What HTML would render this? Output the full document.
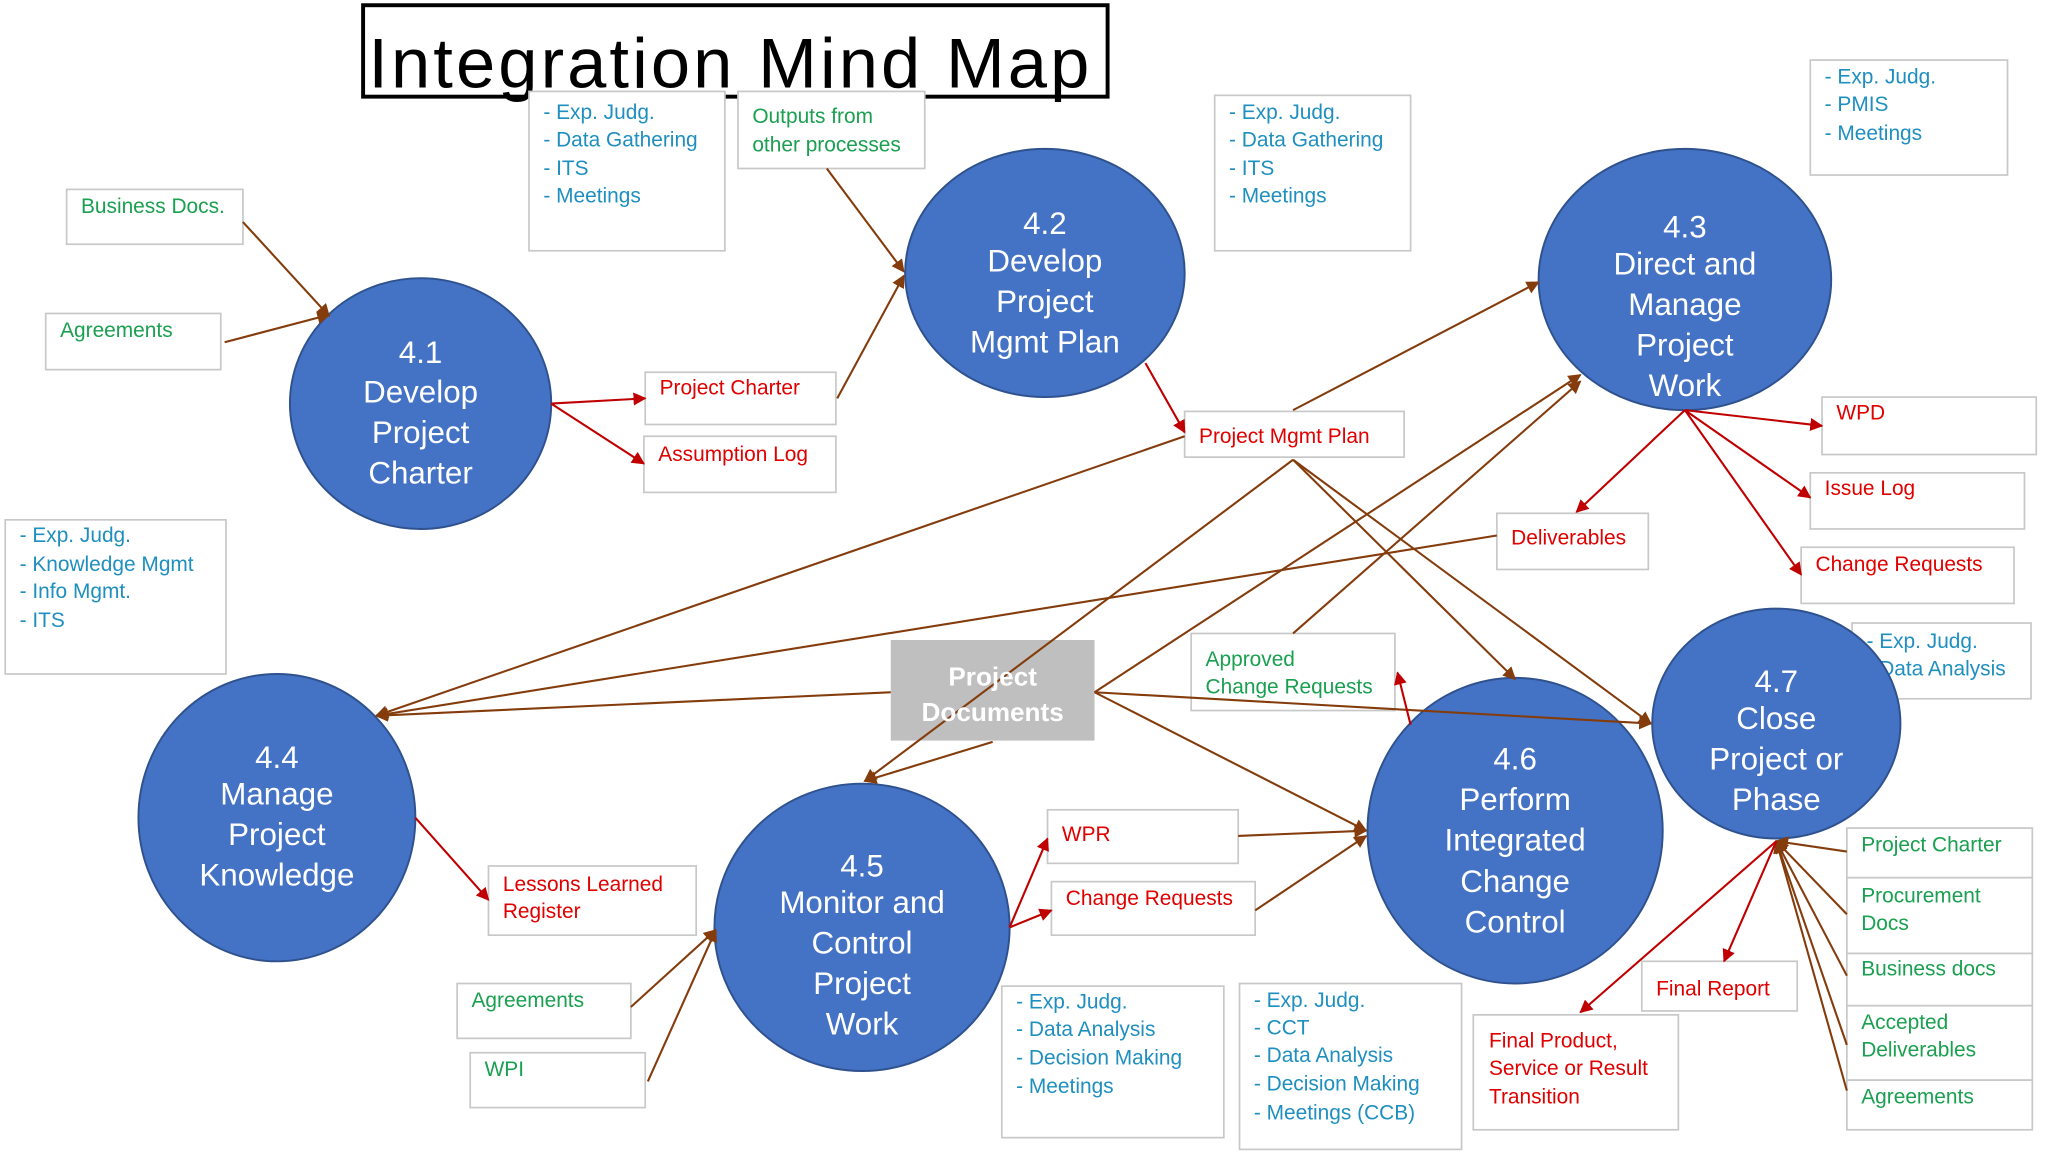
<!DOCTYPE html>
<html><head><meta charset="utf-8"><style>
html,body{margin:0;padding:0;background:#fff;}
svg{display:block;}
text{font-family:"Liberation Sans Narrow","Liberation Sans",sans-serif;}
.b{fill:#1f8fc0;font-size:16px}
.g{fill:#1aa050;font-size:16px}
.r{fill:#e00000;font-size:16px}
.w{fill:#fff;font-size:24px;text-anchor:middle}
.bx{fill:#fff;stroke:#c8c8c8;stroke-width:1.3}
.ci{fill:#4472c4;stroke:#2f528f;stroke-width:1.5}
.br{stroke:#843c0c;stroke-width:1.6;fill:none}
.rd{stroke:#c00000;stroke-width:1.6;fill:none}
</style></head><body>
<svg width="2048" height="1152" viewBox="0 0 1568 882" xmlns="http://www.w3.org/2000/svg">
<defs>
<marker id="ab" markerWidth="10" markerHeight="10" refX="9" refY="5" orient="auto" markerUnits="userSpaceOnUse"><path d="M0,0 L10,5 L0,10 Z" fill="#843c0c"/></marker>
<marker id="ar" markerWidth="10" markerHeight="10" refX="9" refY="5" orient="auto" markerUnits="userSpaceOnUse"><path d="M0,0 L10,5 L0,10 Z" fill="#c00000"/></marker>
</defs>
<rect x="278" y="4" width="570" height="70" fill="#fff" stroke="#000" stroke-width="3"/>
<text x="282" y="67" style="font-family:'Liberation Sans',sans-serif;font-size:54px" fill="#000" textLength="552">Integration Mind Map</text>

<!-- boxes -->
<rect class="bx" x="405" y="70" width="150" height="122"/>
<text class="b" x="416" y="91">- Exp. Judg.</text><text class="b" x="416" y="112">- Data Gathering</text><text class="b" x="416" y="134">- ITS</text><text class="b" x="416" y="155">- Meetings</text>
<rect class="bx" x="565" y="70" width="143" height="59"/>
<text class="g" x="576" y="94">Outputs from</text><text class="g" x="576" y="116">other processes</text>
<rect class="bx" x="51" y="145" width="135" height="42"/><text class="g" x="62" y="163">Business Docs.</text>
<rect class="bx" x="35" y="240" width="134" height="43"/><text class="g" x="46" y="258">Agreements</text>
<rect class="bx" x="494" y="285" width="146" height="40"/><text class="r" x="505" y="302">Project Charter</text>
<rect class="bx" x="493" y="334" width="147" height="43"/><text class="r" x="504" y="353">Assumption Log</text>
<rect class="bx" x="930" y="73" width="150" height="119"/>
<text class="b" x="941" y="91">- Exp. Judg.</text><text class="b" x="941" y="112">- Data Gathering</text><text class="b" x="941" y="134">- ITS</text><text class="b" x="941" y="155">- Meetings</text>
<rect class="bx" x="1386" y="46" width="151" height="88"/>
<text class="b" x="1397" y="64">- Exp. Judg.</text><text class="b" x="1397" y="85">- PMIS</text><text class="b" x="1397" y="107">- Meetings</text>
<rect class="bx" x="907" y="315" width="168" height="35"/><text class="r" x="918" y="339">Project Mgmt Plan</text>
<rect class="bx" x="1395" y="304" width="164" height="44"/><text class="r" x="1406" y="321">WPD</text>
<rect class="bx" x="1386" y="362" width="164" height="43"/><text class="r" x="1397" y="379">Issue Log</text>
<rect class="bx" x="1379" y="419" width="163" height="43"/><text class="r" x="1390" y="437">Change Requests</text>
<rect class="bx" x="1146" y="393" width="116" height="43"/><text class="r" x="1157" y="417">Deliverables</text>
<rect class="bx" x="4" y="398" width="169" height="118"/>
<text class="b" x="15" y="415">- Exp. Judg.</text><text class="b" x="15" y="437">- Knowledge Mgmt</text><text class="b" x="15" y="458">- Info Mgmt.</text><text class="b" x="15" y="480">- ITS</text>
<rect class="bx" x="912" y="485" width="156" height="59"/>
<text class="g" x="923" y="510">Approved</text><text class="g" x="923" y="531">Change Requests</text>
<rect class="bx" x="1418" y="477" width="137" height="58"/>
<text class="b" x="1429" y="496">- Exp. Judg.</text><text class="b" x="1429" y="517">- Data Analysis</text>
<rect class="bx" x="374" y="663" width="159" height="53"/>
<text class="r" x="385" y="682">Lessons Learned</text><text class="r" x="385" y="703">Register</text>
<rect class="bx" x="802" y="620" width="146" height="41"/><text class="r" x="813" y="644">WPR</text>
<rect class="bx" x="805" y="675" width="156" height="41"/><text class="r" x="816" y="693">Change Requests</text>
<rect class="bx" x="350" y="753" width="133" height="42"/><text class="g" x="361" y="771">Agreements</text>
<rect class="bx" x="360" y="806" width="134" height="42"/><text class="g" x="371" y="824">WPI</text>
<rect class="bx" x="767" y="755" width="170" height="116"/>
<text class="b" x="778" y="772">- Exp. Judg.</text><text class="b" x="778" y="793">- Data Analysis</text><text class="b" x="778" y="815">- Decision Making</text><text class="b" x="778" y="837">- Meetings</text>
<rect class="bx" x="949" y="753" width="170" height="127"/>
<text class="b" x="960" y="771">- Exp. Judg.</text><text class="b" x="960" y="792">- CCT</text><text class="b" x="960" y="813">- Data Analysis</text><text class="b" x="960" y="835">- Decision Making</text><text class="b" x="960" y="857">- Meetings (CCB)</text>
<rect class="bx" x="1257" y="736" width="119" height="38"/><text class="r" x="1268" y="762">Final Report</text>
<rect class="bx" x="1128" y="777" width="157" height="88"/>
<text class="r" x="1140" y="802">Final Product,</text><text class="r" x="1140" y="823">Service or Result</text><text class="r" x="1140" y="845">Transition</text>
<rect class="bx" x="1414" y="634" width="142" height="38"/><text class="g" x="1425" y="652">Project Charter</text>
<rect class="bx" x="1414" y="672" width="142" height="58"/><text class="g" x="1425" y="691">Procurement</text><text class="g" x="1425" y="712">Docs</text>
<rect class="bx" x="1414" y="730" width="142" height="40"/><text class="g" x="1425" y="747">Business docs</text>
<rect class="bx" x="1414" y="770" width="142" height="57"/><text class="g" x="1425" y="788">Accepted</text><text class="g" x="1425" y="809">Deliverables</text>
<rect class="bx" x="1414" y="827" width="142" height="38"/><text class="g" x="1425" y="845">Agreements</text>

<!-- circles -->
<ellipse class="ci" cx="322" cy="309" rx="100" ry="96"/>
<ellipse class="ci" cx="800" cy="209" rx="107" ry="95"/>
<ellipse class="ci" cx="1290" cy="214" rx="112" ry="100"/>
<ellipse class="ci" cx="212" cy="626" rx="106" ry="110"/>
<ellipse class="ci" cx="660" cy="710" rx="113" ry="110"/>
<ellipse class="ci" cx="1160" cy="636" rx="113" ry="117"/>
<ellipse class="ci" cx="1360" cy="554" rx="95" ry="88"/>

<rect x="682" y="490" width="156" height="77" fill="#bfbfbf"/>

<!-- connectors -->
<g class="br">
<line x1="186" y1="170" x2="252" y2="242" marker-end="url(#ab)"/>
<line x1="172" y1="262" x2="252" y2="241" marker-end="url(#ab)"/>
<line x1="633" y1="129" x2="692" y2="208" marker-end="url(#ab)"/>
<line x1="641" y1="305" x2="692" y2="211" marker-end="url(#ab)"/>
<line x1="990" y1="314" x2="1178" y2="216" marker-end="url(#ab)"/>
<line x1="907" y1="334" x2="288" y2="548" marker-end="url(#ab)"/>
<line x1="990" y1="352" x2="662" y2="598" marker-end="url(#ab)"/>
<line x1="990" y1="352" x2="1160" y2="520" marker-end="url(#ab)"/>
<line x1="990" y1="352" x2="1264" y2="554" marker-end="url(#ab)"/>
<line x1="1146" y1="410" x2="288" y2="548" marker-end="url(#ab)"/>
<line x1="682" y1="530" x2="288" y2="548" marker-end="url(#ab)"/>
<line x1="838" y1="530" x2="1210" y2="287" marker-end="url(#ab)"/>
<line x1="990" y1="485" x2="1210" y2="292" marker-end="url(#ab)"/>
<line x1="838" y1="530" x2="1264" y2="554" marker-end="url(#ab)"/>
<line x1="838" y1="530" x2="1046" y2="636" marker-end="url(#ab)"/>
<line x1="760" y1="568" x2="662" y2="598" marker-end="url(#ab)"/>
<line x1="483" y1="771" x2="548" y2="712" marker-end="url(#ab)"/>
<line x1="496" y1="828" x2="548" y2="712" marker-end="url(#ab)"/>
<line x1="948" y1="640" x2="1046" y2="636" marker-end="url(#ab)"/>
<line x1="961" y1="697" x2="1046" y2="640" marker-end="url(#ab)"/>
<line x1="1414" y1="652" x2="1360" y2="644" marker-end="url(#ab)"/>
<line x1="1414" y1="700" x2="1360" y2="644" marker-end="url(#ab)"/>
<line x1="1414" y1="747" x2="1360" y2="644" marker-end="url(#ab)"/>
<line x1="1414" y1="800" x2="1360" y2="644" marker-end="url(#ab)"/>
<line x1="1414" y1="835" x2="1360" y2="644" marker-end="url(#ab)"/>
</g>
<g class="rd">
<line x1="422" y1="309" x2="494" y2="305" marker-end="url(#ar)"/>
<line x1="422" y1="309" x2="493" y2="355" marker-end="url(#ar)"/>
<line x1="877" y1="278" x2="907" y2="331" marker-end="url(#ar)"/>
<line x1="1290" y1="314" x2="1395" y2="326" marker-end="url(#ar)"/>
<line x1="1290" y1="314" x2="1386" y2="381" marker-end="url(#ar)"/>
<line x1="1290" y1="314" x2="1379" y2="440" marker-end="url(#ar)"/>
<line x1="1290" y1="314" x2="1207" y2="392" marker-end="url(#ar)"/>
<line x1="1080" y1="555" x2="1070" y2="515" marker-end="url(#ar)"/>
<line x1="318" y1="626" x2="374" y2="689" marker-end="url(#ar)"/>
<line x1="773" y1="710" x2="802" y2="642" marker-end="url(#ar)"/>
<line x1="773" y1="710" x2="805" y2="697" marker-end="url(#ar)"/>
<line x1="1360" y1="644" x2="1320" y2="736" marker-end="url(#ar)"/>
<line x1="1360" y1="644" x2="1210" y2="775" marker-end="url(#ar)"/>
</g>

<text x="760" y="525" style="font-size:20px;font-weight:bold;text-anchor:middle" fill="#fff">Project</text>
<text x="760" y="552" style="font-size:20px;font-weight:bold;text-anchor:middle" fill="#fff">Documents</text>

<!-- circle labels -->
<text class="w" x="322" y="278">4.1</text><text class="w" x="322" y="308">Develop</text><text class="w" x="322" y="339">Project</text><text class="w" x="322" y="370">Charter</text>
<text class="w" x="800" y="179">4.2</text><text class="w" x="800" y="208">Develop</text><text class="w" x="800" y="239">Project</text><text class="w" x="800" y="270">Mgmt Plan</text>
<text class="w" x="1290" y="182">4.3</text><text class="w" x="1290" y="210">Direct and</text><text class="w" x="1290" y="241">Manage</text><text class="w" x="1290" y="272">Project</text><text class="w" x="1290" y="303">Work</text>
<text class="w" x="212" y="588">4.4</text><text class="w" x="212" y="616">Manage</text><text class="w" x="212" y="647">Project</text><text class="w" x="212" y="678">Knowledge</text>
<text class="w" x="660" y="671">4.5</text><text class="w" x="660" y="699">Monitor and</text><text class="w" x="660" y="730">Control</text><text class="w" x="660" y="761">Project</text><text class="w" x="660" y="792">Work</text>
<text class="w" x="1160" y="589">4.6</text><text class="w" x="1160" y="620">Perform</text><text class="w" x="1160" y="651">Integrated</text><text class="w" x="1160" y="683">Change</text><text class="w" x="1160" y="714">Control</text>
<text class="w" x="1360" y="530">4.7</text><text class="w" x="1360" y="558">Close</text><text class="w" x="1360" y="589">Project or</text><text class="w" x="1360" y="620">Phase</text>
</svg>
</body></html>
